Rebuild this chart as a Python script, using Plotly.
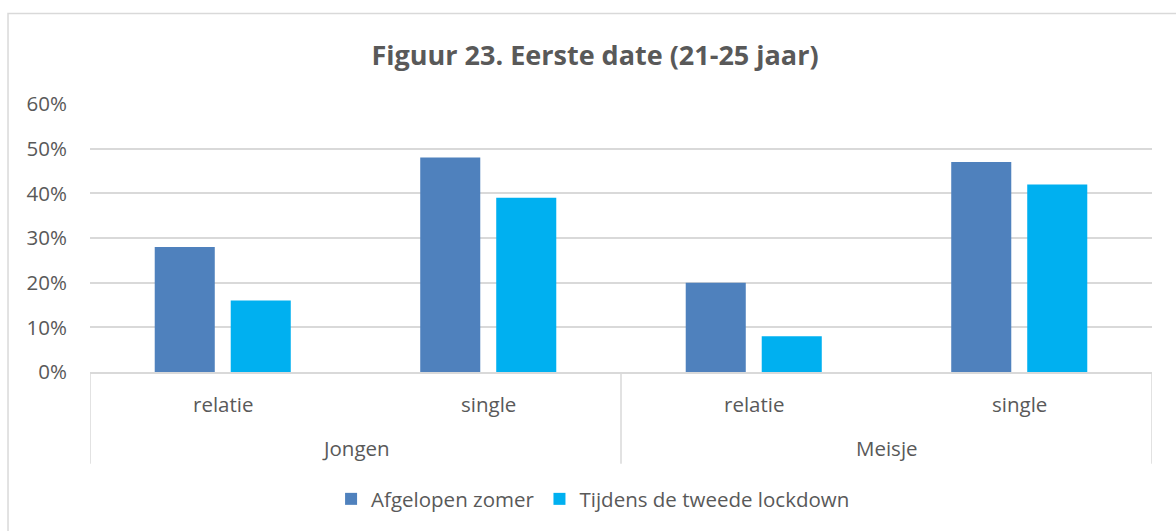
import plotly.graph_objects as go

groups = ["Jongen", "Jongen", "Meisje", "Meisje"]
status = ["relatie", "single", "relatie", "single"]
zomer = [0.28, 0.48, 0.20, 0.47]
lockdown = [0.16, 0.39, 0.08, 0.42]
y_ticks = [0, 0.1, 0.2, 0.3, 0.4, 0.5, 0.6]

grey = "#595959"
line = "#D9D9D9"
font = "Open Sans"

pos = list(range(len(status)))

fig = go.Figure()
fig.add_trace(go.Bar(x=pos, y=zomer, name="Afgelopen zomer",
                     marker=dict(color="#4F81BD", line=dict(width=0))))
fig.add_trace(go.Bar(x=pos, y=lockdown, name="Tijdens de tweede lockdown",
                     marker=dict(color="#00B0F0", line=dict(width=0))))

# category labels (inner level)
for p, s in zip(pos, status):
    fig.add_annotation(x=p, y=-0.118, xref="x", yref="paper", text=s, showarrow=False,
                       yanchor="middle", font=dict(size=20.5, color=grey))

# group labels (outer level) and dividers between groups
uniq = list(dict.fromkeys(groups))
edges = [-0.5]
for g in uniq:
    idx = [p for p, gg in zip(pos, groups) if gg == g]
    fig.add_annotation(x=sum(idx) / len(idx), y=-0.283, xref="x", yref="paper", text=g,
                       showarrow=False, yanchor="middle", font=dict(size=20.5, color=grey))
    edges.append(max(idx) + 0.5)
for e in edges:
    fig.add_shape(type="line", xref="x", yref="paper", x0=e, x1=e, y0=0, y1=-0.342,
                  line=dict(color=line, width=1.5))

# outer chart border like Excel's chart area
fig.add_shape(type="rect", xref="paper", yref="paper",
              x0=-0.0772, x1=1.05, y0=-0.65, y1=1.338,
              line=dict(color=line, width=1.5), fillcolor="rgba(0,0,0,0)")

fig.update_layout(
    width=1176, height=531,
    margin=dict(l=90, r=24, t=104, b=155),
    paper_bgcolor="white", plot_bgcolor="white",
    font=dict(family=font, size=20.5, color=grey),
    title=dict(text="<b>Figuur 23. Eerste date (21-25 jaar)</b>",
               x=0.506, xanchor="center", y=0.896, yanchor="middle",
               font=dict(family=font, size=27, color=grey)),
    barmode="group", bargap=0.4275, bargroupgap=0.21,
    showlegend=True,
    legend=dict(orientation="h", x=0.227, xanchor="left", y=-0.474, yanchor="middle",
                font=dict(size=20.5, color=grey), traceorder="normal"),
    xaxis=dict(range=[-0.5, 3.5], showticklabels=False, showgrid=False, zeroline=False,
               showline=True, linecolor=line, linewidth=1.5, ticks=""),
    yaxis=dict(range=[0, 0.6], tickvals=y_ticks, tickformat=".0%",
               showgrid=True, gridcolor=line, gridwidth=1.5, zeroline=False,
               showline=False, tickfont=dict(size=20.5, color=grey), ticks="",
               ticklabelstandoff=22),
)

fig.write_html("out.html", config={"displayModeBar": False},
               post_script="document.body.style.margin='0';")
